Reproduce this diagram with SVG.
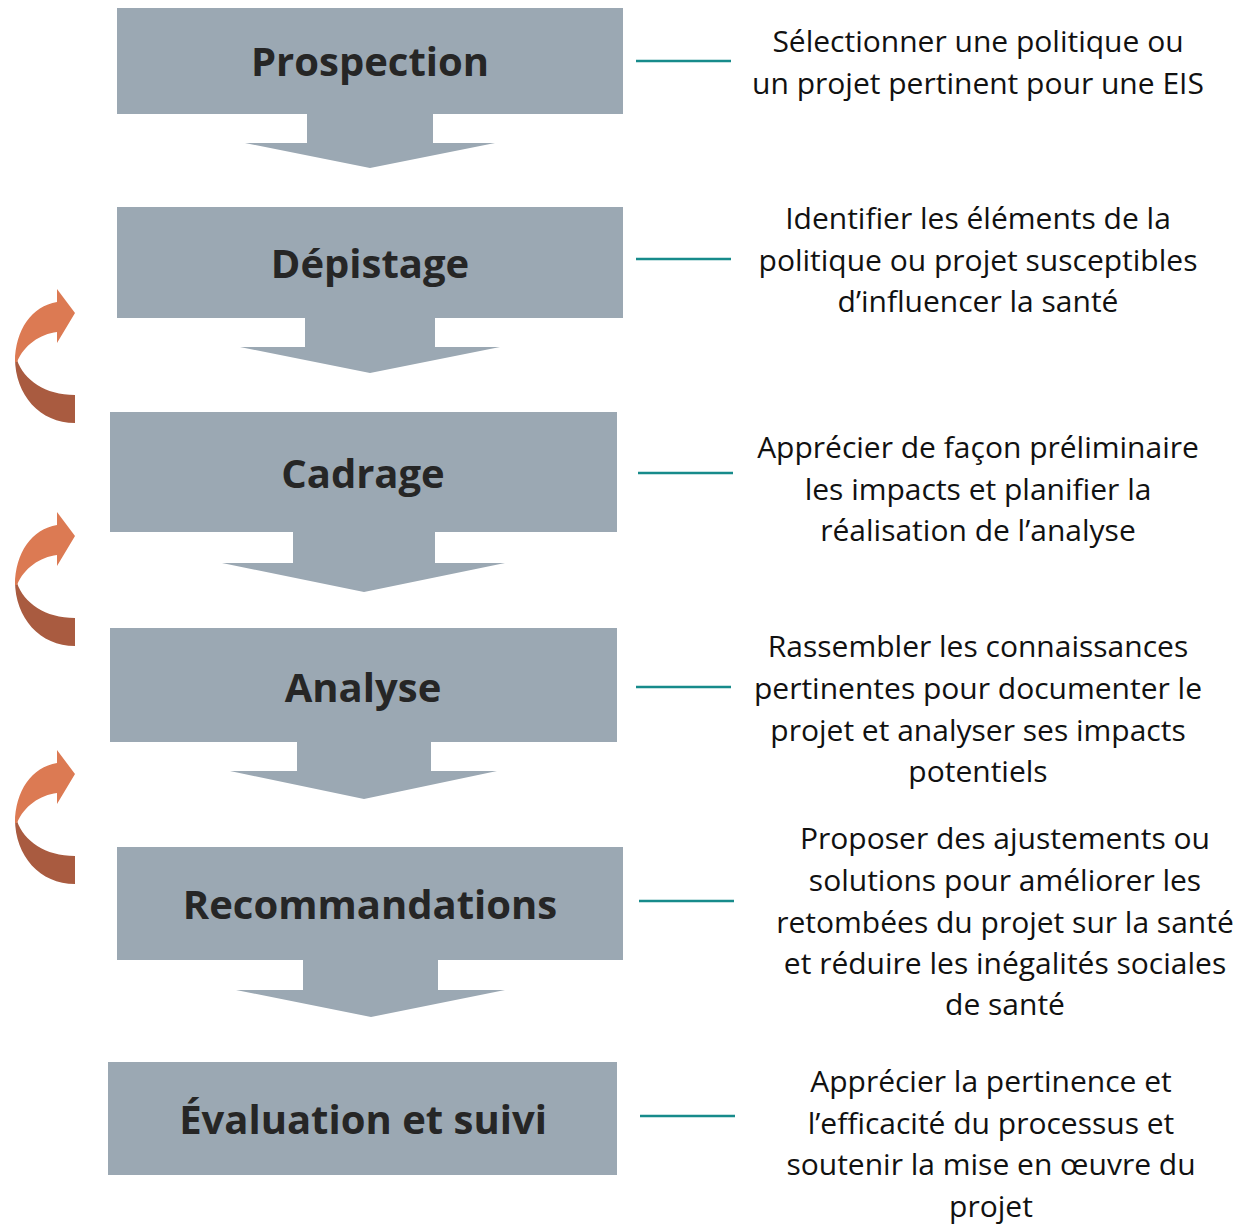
<svg xmlns="http://www.w3.org/2000/svg" width="1248" height="1224" viewBox="0 0 1248 1224">
<defs>
<style>
.box{fill:#9ba8b3}
.lbl{font-family:"Open Sans","Liberation Sans",sans-serif;font-weight:bold;font-size:40px;fill:#262626;text-anchor:middle}
.desc{font-family:"Open Sans","Liberation Sans",sans-serif;font-size:30px;fill:#111;text-anchor:middle}
.tick{stroke:#178b8b;stroke-width:2.5;fill:none}
.lite{fill:#dc7a53}
.dark{fill:#a95b40}
</style>
<g id="curl">
<path class="dark" d="M15,358 C15,395 40,423 75,423 L75,395 C45,395 24,380 17,360 Z"/>
<path class="lite" d="M15,362 C15,330 32,306 57,302 L57,289 L75,313 L57,343 L57,332 C40,334 24,345 17,362 Z"/>
</g>
</defs>
<rect width="1248" height="1224" fill="#fff"/>
<g id="connectors">
<path class="box" d="M307,113 H433 V143 H495 L370,168 L245,143 H307 Z"/>
<path class="box" d="M305,317 H435 V347 H500 L370,373 L240,347 H305 Z"/>
<path class="box" d="M293,531 H435 V563 H505 L364,592 L222,563 H293 Z"/>
<path class="box" d="M297,741 H431 V771 H497 L364,799 L230,771 H297 Z"/>
<path class="box" d="M303,959 H438 V990 H505 L371,1017 L236,990 H303 Z"/>
<line class="tick" x1="636" y1="61" x2="731" y2="61"/>
<line class="tick" x1="636" y1="259" x2="731" y2="259"/>
<line class="tick" x1="638" y1="473" x2="733" y2="473"/>
<line class="tick" x1="636" y1="687" x2="731" y2="687"/>
<line class="tick" x1="639" y1="901" x2="734" y2="901"/>
<line class="tick" x1="640" y1="1116" x2="735" y2="1116"/>
<use href="#curl"/>
<use href="#curl" transform="translate(0,223)"/>
<use href="#curl" transform="translate(0,461)"/>
</g>
<g id="n1"><rect class="box" x="117" y="8" width="506" height="106"/><text class="lbl" x="370" y="76">Prospection</text></g>
<g id="n2"><rect class="box" x="117" y="207" width="506" height="111"/><text class="lbl" x="370" y="278">Dépistage</text></g>
<g id="n3"><rect class="box" x="110" y="412" width="507" height="120"/><text class="lbl" x="363" y="488">Cadrage</text></g>
<g id="n4"><rect class="box" x="110" y="628" width="507" height="114"/><text class="lbl" x="363" y="702">Analyse</text></g>
<g id="n5"><rect class="box" x="117" y="847" width="506" height="113"/><text class="lbl" x="370" y="919">Recommandations</text></g>
<g id="n6"><rect class="box" x="108" y="1062" width="509" height="113"/><text class="lbl" x="363" y="1134">Évaluation et suivi</text></g>
<g id="d1" class="desc"><text x="978" y="52">Sélectionner une politique ou</text><text x="978" y="94">un projet pertinent pour une EIS</text></g>
<g id="d2" class="desc"><text x="978" y="229">Identifier les éléments de la</text><text x="978" y="271">politique ou projet susceptibles</text><text x="978" y="312">d’influencer la santé</text></g>
<g id="d3" class="desc"><text x="978" y="458">Apprécier de façon préliminaire</text><text x="978" y="500">les impacts et planifier la</text><text x="978" y="541">réalisation de l’analyse</text></g>
<g id="d4" class="desc"><text x="978" y="657">Rassembler les connaissances</text><text x="978" y="699">pertinentes pour documenter le</text><text x="978" y="741">projet et analyser ses impacts</text><text x="978" y="782">potentiels</text></g>
<g id="d5" class="desc"><text x="1005" y="849">Proposer des ajustements ou</text><text x="1005" y="891">solutions pour améliorer les</text><text x="1005" y="933">retombées du projet sur la santé</text><text x="1005" y="974">et réduire les inégalités sociales</text><text x="1005" y="1015">de santé</text></g>
<g id="d6" class="desc"><text x="991" y="1092">Apprécier la pertinence et</text><text x="991" y="1134">l’efficacité du processus et</text><text x="991" y="1175">soutenir la mise en œuvre du</text><text x="991" y="1217">projet</text></g>
</svg>
